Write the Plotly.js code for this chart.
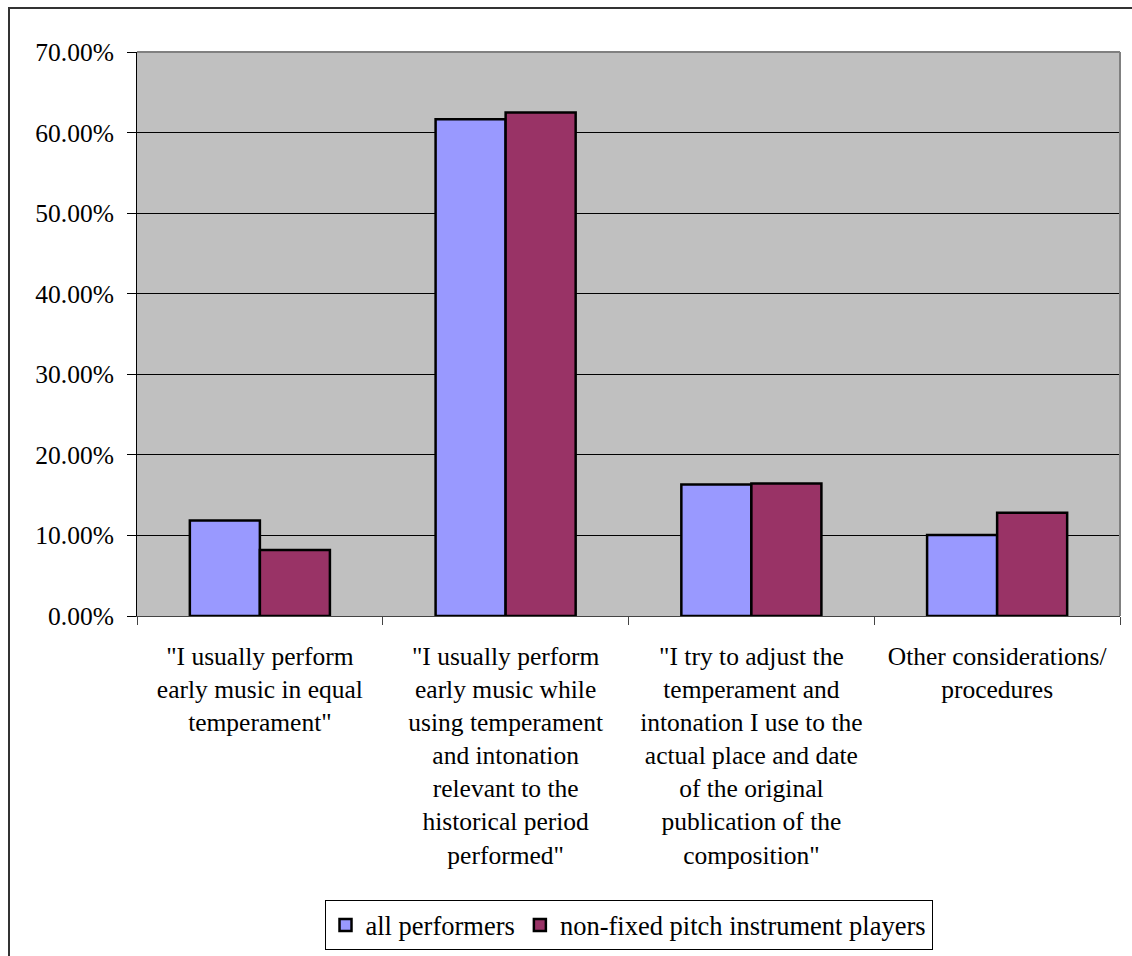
<!DOCTYPE html>
<html>
<head>
<meta charset="utf-8">
<script src="https://cdn.plot.ly/plotly-3.0.1.min.js"></script>
<style>
html,body{margin:0;padding:0;background:#fff;overflow:hidden;}
#chart{width:1132px;height:956px;}
#frame{position:absolute;left:8px;top:7px;width:1300px;height:1100px;border:2px solid #333;pointer-events:none;}
</style>
</head>
<body>
<div id="chart"></div>
<div id="frame"></div>
<script>
const categories = [
  '"I usually perform<br>early music in equal<br>temperament"',
  '"I usually perform<br>early music while<br>using temperament<br>and intonation<br>relevant to the<br>historical period<br>performed"',
  '"I try to adjust the<br>temperament and<br>intonation I use to the<br>actual place and date<br>of the original<br>publication of the<br>composition"',
  'Other considerations/<br>procedures'
];
const seriesNames = ['all performers', 'non-fixed pitch instrument players'];
const allPerformers = [0.1185, 0.6166, 0.1632, 0.1006];
const nonFixedPitch = [0.0820, 0.6248, 0.1645, 0.1280];
const yTickValues = [0, 0.1, 0.2, 0.3, 0.4, 0.5, 0.6, 0.7];

const FAMILY = "'Liberation Serif', 'Times New Roman', 'DejaVu Serif', serif";
function mkFont(s) { return {family: FAMILY, size: s, color: '#000'}; }

const traces = [
  {type: 'bar', name: seriesNames[0], x: categories, y: allPerformers,
   marker: {color: '#9999FF', line: {color: '#000', width: 2.5}}},
  {type: 'bar', name: seriesNames[1], x: categories, y: nonFixedPitch,
   marker: {color: '#993366', line: {color: '#000', width: 2.5}}}
];

const layout = {
  width: 1132, height: 956,
  margin: {l: 137, r: 12, t: 52, b: 340, pad: 0},
  paper_bgcolor: '#fff', plot_bgcolor: '#C0C0C0',
  font: mkFont(26),
  barmode: 'group', bargap: 0.43, bargroupgap: 0,
  showlegend: true,
  legend: {
    orientation: 'h', xref: 'paper', yref: 'container',
    x: 0.5, xanchor: 'center', y: 0.006, yanchor: 'bottom',
    bordercolor: '#000', borderwidth: 1, bgcolor: '#fff',
    font: mkFont(26.5), itemwidth: 30, tracegroupgap: 0
  },
  xaxis: {
    type: 'category', tickson: 'boundaries', ticks: 'outside', ticklen: 8, tickwidth: 1, tickcolor: '#444',
    showline: true, linecolor: '#444', linewidth: 1, showgrid: false, tickangle: 0,
    tickfont: mkFont(25.5), automargin: false, ticklabelstandoff: 17
  },
  yaxis: {
    range: [0, 0.7], tickvals: yTickValues, tickformat: '.2%',
    ticks: 'outside', ticklen: 9, tickwidth: 1, tickcolor: '#000',
    showline: true, linecolor: '#000', linewidth: 1,
    showgrid: true, gridcolor: '#000', gridwidth: 1, zeroline: false,
    tickfont: mkFont(25.5), automargin: false, ticklabelstandoff: 8
  },
  shapes: [
    {type: 'line', xref: 'paper', yref: 'paper', x0: 0, x1: 1, y0: 1, y1: 1, line: {color: '#808080', width: 2}, layer: 'above'},
    {type: 'line', xref: 'paper', yref: 'paper', x0: 1, x1: 1, y0: 0, y1: 1, line: {color: '#808080', width: 2}, layer: 'above'}
  ]
};

Plotly.newPlot('chart', traces, layout, {staticPlot: true, displayModeBar: false});
</script>
</body>
</html>
